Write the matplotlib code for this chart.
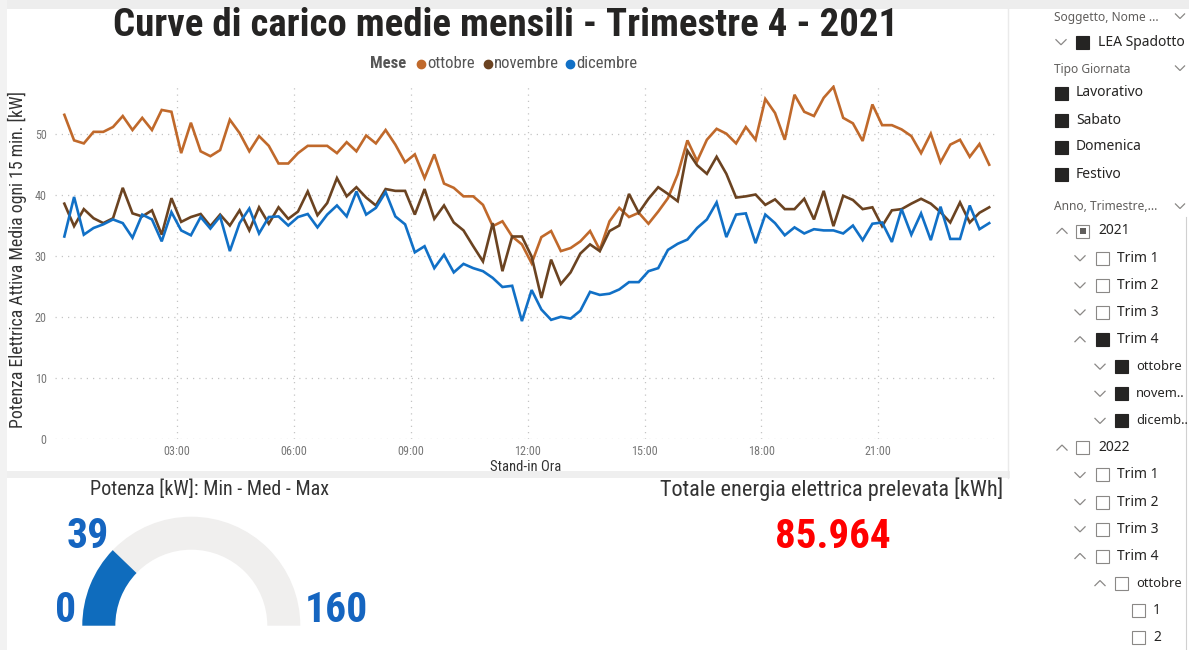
import numpy as np
import matplotlib
matplotlib.use("Agg")
import matplotlib.pyplot as plt
from matplotlib.patches import Wedge, Rectangle
from matplotlib import font_manager as fm

# ---------------- data ----------------
months = ["ottobre", "novembre", "dicembre"]
hours = np.arange(96) * 0.25 + 0.1          # 15-minute samples (hours of day)

ottobre = [53.2, 49.0, 48.5, 50.4, 50.4, 51.2, 53.0, 50.7, 52.7, 50.7, 54.0, 53.7, 46.9, 51.9, 47.2, 46.4,
           47.4, 52.4, 50.2, 47.2, 49.7, 48.1, 45.2, 45.2, 46.9, 48.1, 48.1, 48.1, 46.9, 48.7, 47.2, 49.8,
           48.5, 50.7, 48.3, 45.4, 46.7, 42.8, 46.7, 41.9, 41.2, 39.8, 39.8, 38.4, 34.9, 35.7, 33.2, 31.9,
           28.8, 33.1, 34.1, 30.8, 31.3, 32.4, 34.1, 31.0, 35.7, 37.9, 36.4, 37.1, 35.3, 37.3, 39.5, 43.4,
           49.0, 45.6, 49.1, 50.9, 50.1, 48.5, 51.2, 49.1, 55.8, 53.5, 49.1, 56.5, 53.7, 53.0, 56.0, 57.8,
           52.7, 51.8, 48.9, 54.9, 51.5, 51.5, 50.8, 49.7, 46.9, 50.1, 45.4, 48.3, 49.1, 46.3, 48.4, 45.0]

novembre = [38.6, 34.9, 37.7, 36.2, 35.4, 36.2, 41.2, 37.0, 36.5, 37.5, 33.5, 39.5, 35.6, 36.4, 36.9, 34.9,
            36.8, 35.0, 37.5, 34.2, 38.0, 35.3, 38.0, 36.1, 37.3, 40.6, 36.7, 38.7, 42.8, 39.8, 41.3, 39.6,
            38.3, 41.0, 40.7, 40.7, 36.8, 41.0, 36.1, 38.3, 35.5, 34.2, 31.6, 29.1, 35.4, 27.5, 33.2, 33.2,
            29.9, 23.1, 29.4, 25.4, 27.3, 30.4, 31.9, 30.8, 34.1, 35.0, 40.2, 37.1, 39.4, 41.3, 40.2, 39.0,
            47.3, 44.9, 43.5, 46.3, 43.5, 39.6, 39.8, 40.1, 38.4, 39.3, 37.7, 37.7, 39.4, 36.0, 40.7, 34.9,
            39.9, 39.2, 37.7, 38.0, 34.9, 37.5, 37.7, 38.6, 39.4, 38.6, 37.2, 35.5, 38.8, 35.5, 37.1, 38.0]

dicembre = [33.2, 39.7, 33.5, 34.6, 35.2, 36.0, 35.4, 33.0, 36.8, 36.0, 32.4, 37.2, 34.2, 33.4, 36.4, 34.5,
            36.5, 30.8, 35.4, 37.8, 33.7, 36.4, 36.5, 35.0, 36.4, 36.9, 34.7, 36.8, 38.3, 36.5, 40.6, 36.8,
            37.9, 40.5, 36.5, 35.2, 30.6, 31.6, 28.0, 30.2, 27.3, 28.7, 28.0, 27.5, 26.4, 24.9, 25.1, 19.3,
            24.4, 21.2, 19.5, 20.0, 19.7, 21.0, 24.1, 23.6, 23.8, 24.5, 25.7, 25.7, 27.5, 28.0, 31.0, 32.0,
            32.7, 34.6, 36.0, 38.8, 33.1, 36.8, 37.0, 32.1, 36.8, 35.4, 33.4, 34.7, 33.7, 34.4, 34.2, 34.2,
            33.7, 35.0, 32.6, 35.3, 35.5, 32.3, 37.7, 33.5, 37.0, 32.6, 38.1, 32.8, 32.8, 38.3, 34.4, 35.4]

series = [ottobre, novembre, dicembre]
colors = ["#C0692B", "#6B4321", "#1170C6"]

y_ticks = [0, 10, 20, 30, 40, 50]
x_tick_hours = [3, 6, 9, 12, 15, 18, 21]
x_tick_labels = ["03:00", "06:00", "09:00", "12:00", "15:00", "18:00", "21:00"]

gauge_min, gauge_value, gauge_max = 0, 39, 160
total_energy_label = "85.964"

tipo_giornata = ["Lavorativo", "Sabato", "Domenica", "Festivo"]
# (level, chevron, checkbox state, text)
tree_rows = [
    (0, "up", "partial", "2021"),
    (1, "down", "off", "Trim 1"),
    (1, "down", "off", "Trim 2"),
    (1, "down", "off", "Trim 3"),
    (1, "up", "on", "Trim 4"),
    (2, "down", "on", "ottobre"),
    (2, "down", "on", "novem.."),
    (2, "down", "on", "dicemb.."),
    (0, "up", "off", "2022"),
    (1, "down", "off", "Trim 1"),
    (1, "down", "off", "Trim 2"),
    (1, "down", "off", "Trim 3"),
    (1, "up", "off", "Trim 4"),
    (2, "up", "off", "ottobre"),
    (3, None, "off", "1"),
    (3, None, "off", "2"),
]

# ---------------- fonts ----------------
_avail = {f.name for f in fm.fontManager.ttflist}
NARROW = [f for f in ["Roboto Condensed", "Liberation Sans Narrow", "Arial Narrow"] if f in _avail] + ["Liberation Sans", "DejaVu Sans"]
UI = ["Noto Sans", "DejaVu Sans"]

W, H = 1189, 650
fig = plt.figure(figsize=(W / 100, H / 100), dpi=100)
fig.patch.set_facecolor("white")

# overlay in pixel coordinates
ov = fig.add_axes([0, 0, 1, 1], zorder=0)
ov.set_xlim(0, W)
ov.set_ylim(H, 0)
ov.axis("off")

# page frame / borders
ov.add_patch(Rectangle((0, 0), W, 9, color="#EDEDED", lw=0))
ov.add_patch(Rectangle((0, 0), 7, H, color="#F2F2F2", lw=0))
ov.add_patch(Rectangle((7, 471), 1003, 7, color="#EFEFEF", lw=0))
ov.plot([1008, 1008], [9, 478], color="#EAEAEA", lw=1.0)
ov.plot([1186, 1186], [217, 650], color="#D0D0D0", lw=0.8)

# ---------------- line chart ----------------
L, R, T, B = 55, 997, 85, 438.5
ax = fig.add_axes([L / W, 1 - B / H, (R - L) / W, (B - T) / H], zorder=1)
ax.set_facecolor("none")
for vals, col, name in zip(series, colors, months):
    ax.plot(hours, vals, color=col, lw=1.9, label=name, solid_joinstyle="miter")
ax.set_xlim(-0.14, 24.05)
ax.set_ylim(0, 58.1)
ax.set_yticks(y_ticks)
ax.set_xticks(x_tick_hours)
ax.set_xticklabels(x_tick_labels)
for s in ax.spines.values():
    s.set_visible(False)
ax.grid(True, color="#C4C4C4", lw=0.9, linestyle=(0, (1, 4)))
ax.tick_params(length=0, labelcolor="#777777", labelsize=8.7)
ax.tick_params(axis="y", pad=6)
ax.tick_params(axis="x", pad=5)
for lab in ax.get_xticklabels() + ax.get_yticklabels():
    lab.set_family(NARROW)
ax.set_xlabel("Stand-in Ora", family=NARROW, fontsize=10.5, color="#333333", labelpad=1)

ov.text(17, 260, "Potenza Elettrica Attiva Media ogni 15 min. [kW]", rotation=90,
        ha="center", va="center", family=NARROW, fontsize=12.8, color="#333333")

# title
ov.text(506, 25, "Curve di carico medie mensili - Trimestre 4 - 2021", ha="center", va="center",
        family=NARROW, fontsize=28, fontweight="bold", color="#252423")

# legend
ov.text(370, 63, "Mese", ha="left", va="center", family=NARROW, fontsize=12,
        fontweight="bold", color="#555555")
leg_x = [421, 488, 570]
for lx, col, name in zip(leg_x, colors, months):
    ov.plot(lx, 63.5, "o", color=col, ms=6)
    ov.text(lx + 6, 63, name, ha="left", va="center", family=NARROW, fontsize=12, color="#555555")

# ---------------- gauge ----------------
ov.text(210, 489, "Potenza [kW]: Min - Med - Max", ha="center", va="center",
        family=NARROW, fontsize=14.5, color="#333333")
gcx, gcy, gR, gw = 191.3, 625.7, 109, 33
ov.add_patch(Wedge((gcx, gcy), gR, 180, 360, width=gw, color="#F0EFEE", lw=0))
frac = (gauge_value - gauge_min) / (gauge_max - gauge_min)
ov.add_patch(Wedge((gcx, gcy), gR, 180, 180 + 180 * frac, width=gw, color="#0F6CBD", lw=0))
gblue = "#1565C0"
for txt, gx, gy in [(str(gauge_value), 88, 536), (str(gauge_min), 66, 611), (str(gauge_max), 336, 611)]:
    ov.text(gx, gy, txt, ha="center", va="center", family=NARROW, fontsize=30,
            fontweight="bold", color=gblue)

# ---------------- card ----------------
ov.text(832, 489, "Totale energia elettrica prelevata [kWh]", ha="center", va="center",
        family=NARROW, fontsize=16, color="#333333")
ov.text(833, 537, total_energy_label, ha="center", va="center", family=NARROW, fontsize=29.5,
        fontweight="bold", color="#FF0000")

# ---------------- slicers ----------------
def chevron(cx, cy, up, size=5.5, col="#8A8886"):
    dy = -size / 2 if up else size / 2
    ov.plot([cx - size, cx, cx + size], [cy - dy, cy + dy, cy - dy], color=col, lw=0.9,
            solid_joinstyle="miter", solid_capstyle="butt")

def checkbox(x, cy, state, s=13):
    if state == "on":
        ov.add_patch(Rectangle((x, cy - s / 2), s, s, facecolor="#252423", edgecolor="#252423", lw=0.8))
    elif state == "partial":
        ov.add_patch(Rectangle((x, cy - s / 2), s, s, facecolor="white", edgecolor="#8A8886", lw=0.8))
        ov.add_patch(Rectangle((x + 3.5, cy - s / 2 + 3.5), s - 7, s - 7, facecolor="#605E5C", lw=0))
    else:
        ov.add_patch(Rectangle((x, cy - s / 2), s, s, facecolor="white", edgecolor="#8A8886", lw=0.8))

def header(y, text):
    ov.text(1054, y, text, ha="left", va="center", family=UI, fontsize=8.6, color="#605E5C")
    chevron(1180, y - 1, False, size=5)

header(17, "Soggetto, Nome ...")
chevron(1061, 42, False)
checkbox(1076, 42, "on")
ov.text(1098, 42, "LEA Spadotto", ha="left", va="center", family=UI, fontsize=10, color="#252423")

header(69, "Tipo Giornata")
for k, name in enumerate(tipo_giornata):
    yy = 93 + k * 27
    checkbox(1055, yy, "on")
    ov.text(1076, yy, name, ha="left", va="center", family=UI, fontsize=10, color="#252423")

header(207, "Anno, Trimestre,...")
lvl_chev = [1062, 1080, 1100, None]
lvl_box = [1076, 1096, 1115, 1132]
lvl_txt = [1098, 1117, 1136, 1153]
for k, (lvl, ch, st, txt) in enumerate(tree_rows):
    yy = 231 + k * 27.1
    if ch is not None:
        chevron(lvl_chev[lvl], yy, ch == "up")
    checkbox(lvl_box[lvl], yy, st)
    ov.text(lvl_txt[lvl], yy, txt, ha="left", va="center", family=UI,
            fontsize=9.3 if lvl == 2 else 10, color="#252423")

fig.savefig("out.png", dpi=100, facecolor="white")
